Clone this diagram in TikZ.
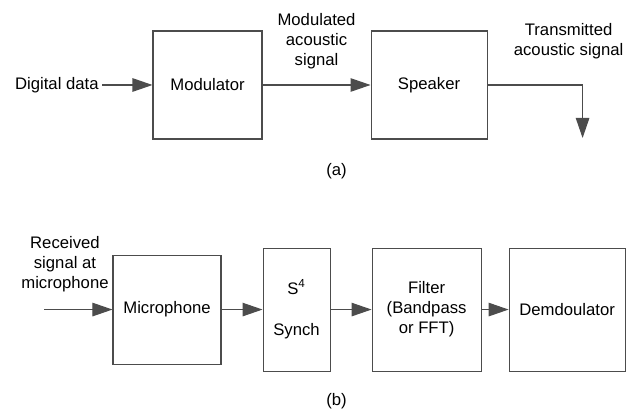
\documentclass[tikz,border=0pt]{standalone}
\usepackage{fontspec}
\setmainfont{Liberation Sans}
\usepackage{tikz}
\usetikzlibrary{arrows.meta, positioning}
\tikzset{
  % Block diagram styles
  block/.style={rectangle, minimum width=#1, text centered, draw=black!70, line width=0.6pt, fill=white, align=center},
  block/.default={2.18cm},
  lbl/.style={align=center, inner sep=2pt},
  arrow/.style={-{Triangle[length=0.4cm, width=0.27cm]}, draw=black!70, line width=0.6pt},
}

\begin{document}
\begin{tikzpicture}[font=\fontsize{9.5pt}{11.4pt}\selectfont]
    \useasboundingbox (-4.15,-6.54) rectangle (8.47,1.7);

    % (a) Transmitter
    \node[block=2.18cm, minimum height=2.16cm] (mod) at (0,0) {Modulator};
    \node[block=2.32cm, minimum height=2.16cm, right=2.16cm of mod] (spk) {Speaker};
    \node[lbl, left=1.0cm of mod] (dd) {Digital data};

    \path (mod) -- (spk) coordinate[midway] (m1);
    \node[lbl, above=0.25cm of m1] (modsig) {Modulated\\acoustic\\signal};

    \coordinate[right=1.9cm of spk.east] (corner);
    \coordinate[below=1.06cm of corner] (out);
    \node[lbl, above=0.45cm of corner, xshift=-0.28cm] (txsig) {Transmitted\\acoustic signal};

    \draw[arrow] (dd) -- (mod);
    \draw[arrow] (mod) -- (spk);
    \draw[arrow] (spk.east) -- (corner) -- (out);

    \node[lbl, below=1.5cm of m1, xshift=0.4cm] (capa) {(a)};

    % (b) Receiver
    \node[block=2.16cm, minimum height=2.18cm, below=2.3cm of mod, xshift=-0.81cm] (mic) {Microphone};
    \node[block=1.34cm, minimum height=2.46cm, right=0.82cm of mic] (sync) {S\textsuperscript{4}\\[0.42cm]Synch};
    \node[block=2.18cm, minimum height=2.46cm, right=0.82cm of sync] (filt) {Filter\\(Bandpass\\or FFT)};
    \node[block=2.32cm, minimum height=2.46cm, right=0.54cm of filt] (demod) {Demdoulator};

    \coordinate[left=1.36cm of mic.west] (in);
    \node[lbl, above left=0.28cm and 0cm of mic.west] (rxsig) {Received\\signal at\\microphone};

    \draw[arrow] (in) -- (mic);
    \draw[arrow] (mic) -- (sync);
    \draw[arrow] (sync) -- (filt);
    \draw[arrow] (filt) -- (demod);

    \node[lbl, below=0.36cm of sync.south east, xshift=0.12cm] (capb) {(b)};
\end{tikzpicture}
\end{document}
